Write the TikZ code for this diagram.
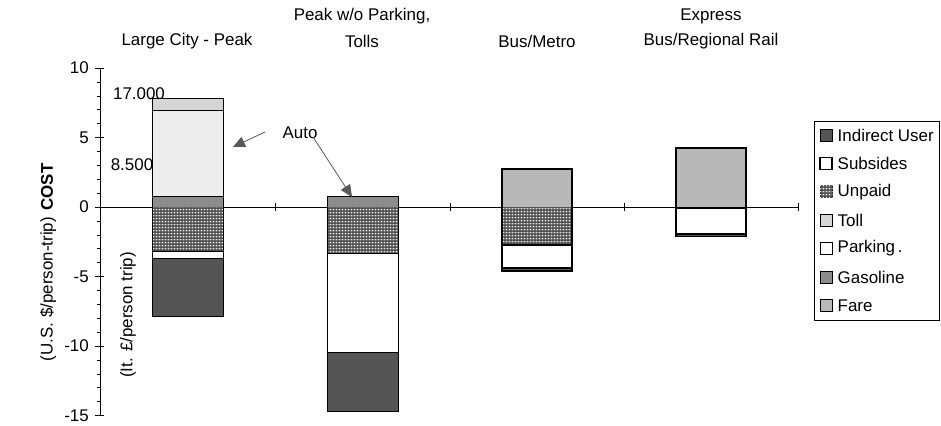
\documentclass[tikz,border=0pt]{standalone}
\usepackage{fontspec}
\setmainfont{Liberation Sans}
\usetikzlibrary{patterns,arrows.meta}
\definecolor{cIndirect}{gray}{0.33}
\definecolor{cToll}{gray}{0.84}
\definecolor{cPark}{gray}{0.93}
\definecolor{cGas}{gray}{0.55}
\definecolor{cFare}{gray}{0.72}
\definecolor{cUnpaid}{gray}{0.28}
\definecolor{cArrow}{gray}{0.35}
\pgfdeclarepatternformonly{unpaiddots}{\pgfpointorigin}{\pgfpoint{3.4bp}{3.2bp}}{\pgfpoint{3.4bp}{3.2bp}}{%
  \pgfpathrectangle{\pgfpoint{0.7bp}{0.7bp}}{\pgfpoint{2.1bp}{1.8bp}}\pgfusepath{fill}}
\tikzset{
  seg/.style={draw=black, line width=1bp},
  subs/.style={draw=black, line width=1.8bp, fill=white},
  unpaidfill/.style={pattern=unpaiddots, pattern color=white!92!black},
  lbl/.style={inner sep=0pt},
  ticklbl/.style={inner sep=0pt, anchor=east},
  autoarrow/.style={draw=cArrow, line width=0.8bp, -{Triangle[length=12bp,width=11bp,fill=cArrow]}},
  legbox/.style={draw=black, line width=1bp, minimum size=12bp, inner sep=0pt},
}
\begin{document}
\begin{tikzpicture}[x=1bp,y=-1bp, font=\fontsize{17}{20}\selectfont]
\useasboundingbox (0,0) rectangle (941,425);
% category labels
\node[lbl] (c1) at (187,41) {Large City - Peak};
\node[lbl] (c2a) at (362,16) {Peak w/o Parking,};
\node[lbl] (c2b) at (362,41) {Tolls};
\node[lbl] (c3) at (537,41) {Bus/Metro};
\node[lbl] (c4a) at (711,16) {Express};
\node[lbl] (c4b) at (711,41) {Bus/Regional Rail};
% axis titles
\node[lbl, rotate=90, font=\fontsize{17}{20}\selectfont\bfseries] (cost) at (47,187) {COST};
\node[lbl, rotate=90] (usd) at (48,289) {(U.S. \$/person-trip)};
\node[lbl, rotate=90] (lit) at (128,315) {(It. £/person trip)};
% labels 17.000 and 8.500 (drawn before the bar)
\node[lbl] (l17) at (139,94) {17.000};
\node[lbl] (l85) at (132,165) {8.500};
\begin{scope}[shift={(0,207)}, y={(0bp,13.9bp)}]
  % y axis
  \draw[line width=0.8bp] (100,10) -- (100,-15);
  \foreach \v in {-14,...,9} {\draw[line width=0.6bp] (97,\v) -- (100,\v);}
  \foreach \v in {10,5,0,-5,-10,-15} {
    \draw[line width=0.8bp] (95,\v) -- (104,\v);
    \node[ticklbl] at (89,\v) {\v};
  }
  % x axis
  \draw[line width=0.8bp] (100,0) -- (798,0);
  \foreach \x in {275,450,624,798} {\draw[line width=0.8bp] (\x,0.3) -- (\x,-0.3);}
  % bar 1
  \filldraw[seg, fill=cGas] (152,0) rectangle (223,0.74);
  \filldraw[seg, fill=cPark] (152,0.74) rectangle (223,6.93);
  \filldraw[seg, fill=cToll] (152,6.93) rectangle (223,7.82);
  \fill[cUnpaid] (152,0) rectangle (223,-3.22);
  \fill[unpaidfill] (152,0) rectangle (223,-3.22);
  \filldraw[seg, fill=white] (152,-3.22) rectangle (223,-3.69);
  \filldraw[seg, fill=cIndirect] (152,-3.69) rectangle (223,-7.9);
  \draw[seg] (152,7.82) rectangle (223,-7.9);
  % bar 2
  \filldraw[seg, fill=cGas] (327,0) rectangle (398,0.79);
  \fill[cUnpaid] (327,0) rectangle (398,-3.33);
  \fill[unpaidfill] (327,0) rectangle (398,-3.33);
  \filldraw[seg, fill=white] (327,-3.33) rectangle (398,-10.5);
  \filldraw[seg, fill=cIndirect] (327,-10.5) rectangle (398,-14.7);
  \draw[seg] (327,0.79) rectangle (398,-14.7);
  % bar 3
  \filldraw[seg, fill=cFare] (502,0) rectangle (572,2.71);
  \fill[cUnpaid] (502,0) rectangle (572,-2.73);
  \fill[unpaidfill] (502,0) rectangle (572,-2.73);
  \filldraw[subs] (502,-2.73) rectangle (572,-4.4);
  \filldraw[seg, fill=cIndirect] (502,-4.4) rectangle (572,-4.62);
  \draw[subs, fill=none] (502,2.71) rectangle (572,-4.62);
  % bar 4
  \filldraw[seg, fill=cFare] (676,0) rectangle (746,4.22);
  \filldraw[seg, fill=cIndirect] (676,0) rectangle (746,-0.08);
  \filldraw[subs] (676,-0.08) rectangle (746,-1.95);
  \filldraw[seg, fill=cIndirect] (676,-1.95) rectangle (746,-2.12);
  \draw[subs, fill=none] (676,4.22) rectangle (746,-2.12);
\end{scope}
% Auto annotation
\node[lbl] (auto) at (300,133) {Auto};
\coordinate (a1s) at (265,132);
\coordinate (a1e) at (233,147);
\coordinate (a2s) at (313,137);
\coordinate (a2e) at (352,197);
\draw[autoarrow] (a1s) -- (a1e);
\draw[autoarrow] (a2s) -- (a2e);
% legend
\node[draw=black, line width=1bp, minimum width=125bp, minimum height=199bp, inner sep=0pt] (legend) at (876.5,220.5) {};
\foreach \t/\i in {Indirect User/0, Subsides/1, Unpaid/2, Toll/3, Parking\,./4, Gasoline/5, Fare/6} {
  \node[lbl, anchor=west] (lt\i) at (837.5,{135+28.4*\i}) {\t};
}
\node[legbox, fill=cIndirect] (lm0) at (826,135) {};
\node[legbox, line width=1.6bp, fill=white] (lm1) at (826,163.4) {};
\node[legbox, fill=cUnpaid] (lm2) at (826,191.8) {};
\fill[unpaidfill] (lm2.south west) rectangle (lm2.north east);
\node[legbox, fill=cToll] (lm3) at (826,220.2) {};
\node[legbox, fill=white] (lm4) at (826,248.6) {};
\node[legbox, fill=cGas] (lm5) at (826,277) {};
\node[legbox, fill=cFare] (lm6) at (826,305.4) {};
\end{tikzpicture}
\end{document}
